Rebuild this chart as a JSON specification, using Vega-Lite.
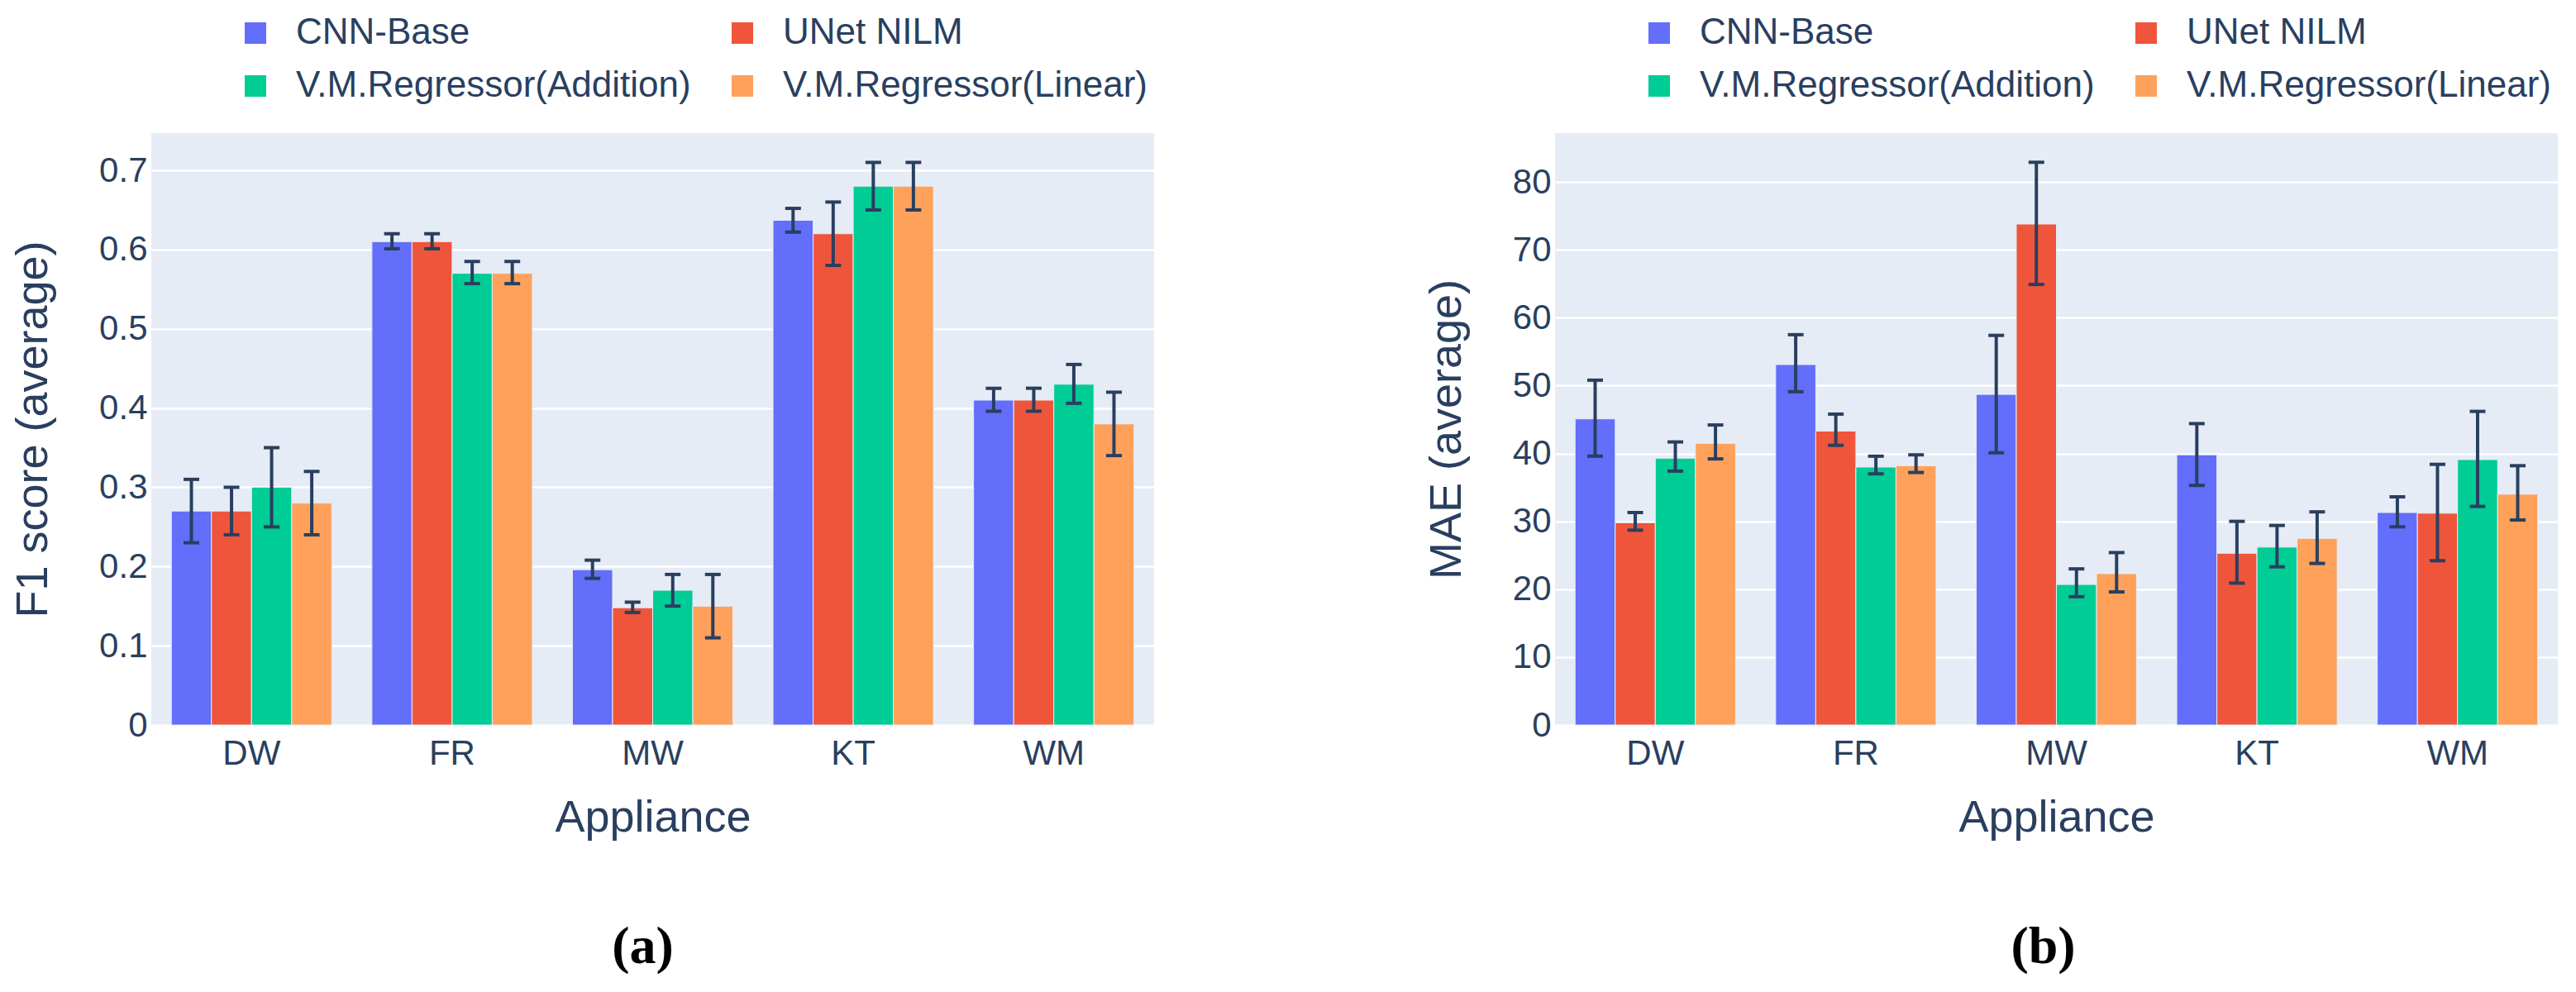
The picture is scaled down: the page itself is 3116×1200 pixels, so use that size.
{
  "$schema": "https://vega.github.io/schema/vega-lite/v6.json",
  "padding": {"left": 13, "top": 18, "right": 0, "bottom": 0},
  "background": "white",
  "datasets": {
    "f1": [
      {"appliance": "DW", "model": "CNN-Base", "value": 0.27, "lo": 0.23, "hi": 0.31},
      {"appliance": "DW", "model": "UNet NILM", "value": 0.27, "lo": 0.24, "hi": 0.30},
      {"appliance": "DW", "model": "V.M.Regressor(Addition)", "value": 0.30, "lo": 0.25, "hi": 0.35},
      {"appliance": "DW", "model": "V.M.Regressor(Linear)", "value": 0.28, "lo": 0.24, "hi": 0.32},
      {"appliance": "FR", "model": "CNN-Base", "value": 0.61, "lo": 0.601, "hi": 0.62},
      {"appliance": "FR", "model": "UNet NILM", "value": 0.61, "lo": 0.601, "hi": 0.62},
      {"appliance": "FR", "model": "V.M.Regressor(Addition)", "value": 0.57, "lo": 0.557, "hi": 0.585},
      {"appliance": "FR", "model": "V.M.Regressor(Linear)", "value": 0.57, "lo": 0.557, "hi": 0.585},
      {"appliance": "MW", "model": "CNN-Base", "value": 0.196, "lo": 0.185, "hi": 0.208},
      {"appliance": "MW", "model": "UNet NILM", "value": 0.148, "lo": 0.142, "hi": 0.155},
      {"appliance": "MW", "model": "V.M.Regressor(Addition)", "value": 0.17, "lo": 0.15, "hi": 0.19},
      {"appliance": "MW", "model": "V.M.Regressor(Linear)", "value": 0.15, "lo": 0.11, "hi": 0.19},
      {"appliance": "KT", "model": "CNN-Base", "value": 0.637, "lo": 0.622, "hi": 0.652},
      {"appliance": "KT", "model": "UNet NILM", "value": 0.62, "lo": 0.58, "hi": 0.66},
      {"appliance": "KT", "model": "V.M.Regressor(Addition)", "value": 0.68, "lo": 0.65, "hi": 0.71},
      {"appliance": "KT", "model": "V.M.Regressor(Linear)", "value": 0.68, "lo": 0.65, "hi": 0.71},
      {"appliance": "WM", "model": "CNN-Base", "value": 0.41, "lo": 0.396, "hi": 0.425},
      {"appliance": "WM", "model": "UNet NILM", "value": 0.41, "lo": 0.396, "hi": 0.425},
      {"appliance": "WM", "model": "V.M.Regressor(Addition)", "value": 0.43, "lo": 0.406, "hi": 0.455},
      {"appliance": "WM", "model": "V.M.Regressor(Linear)", "value": 0.38, "lo": 0.34, "hi": 0.42}
    ],
    "mae": [
      {"appliance": "DW", "model": "CNN-Base", "value": 45.1, "lo": 39.6, "hi": 50.8},
      {"appliance": "DW", "model": "UNet NILM", "value": 29.8, "lo": 28.7, "hi": 31.3},
      {"appliance": "DW", "model": "V.M.Regressor(Addition)", "value": 39.3, "lo": 37.4, "hi": 41.7},
      {"appliance": "DW", "model": "V.M.Regressor(Linear)", "value": 41.5, "lo": 39.2, "hi": 44.2},
      {"appliance": "FR", "model": "CNN-Base", "value": 53.1, "lo": 49.1, "hi": 57.5},
      {"appliance": "FR", "model": "UNet NILM", "value": 43.3, "lo": 41.2, "hi": 45.8},
      {"appliance": "FR", "model": "V.M.Regressor(Addition)", "value": 38.0, "lo": 37.0, "hi": 39.6},
      {"appliance": "FR", "model": "V.M.Regressor(Linear)", "value": 38.2, "lo": 37.2, "hi": 39.8},
      {"appliance": "MW", "model": "CNN-Base", "value": 48.7, "lo": 40.1, "hi": 57.4},
      {"appliance": "MW", "model": "UNet NILM", "value": 73.8, "lo": 64.9, "hi": 82.9},
      {"appliance": "MW", "model": "V.M.Regressor(Addition)", "value": 20.7, "lo": 18.9, "hi": 23.0},
      {"appliance": "MW", "model": "V.M.Regressor(Linear)", "value": 22.3, "lo": 19.6, "hi": 25.4},
      {"appliance": "KT", "model": "CNN-Base", "value": 39.8, "lo": 35.3, "hi": 44.4},
      {"appliance": "KT", "model": "UNet NILM", "value": 25.3, "lo": 20.9, "hi": 30.0},
      {"appliance": "KT", "model": "V.M.Regressor(Addition)", "value": 26.2, "lo": 23.3, "hi": 29.4},
      {"appliance": "KT", "model": "V.M.Regressor(Linear)", "value": 27.5, "lo": 23.8, "hi": 31.4},
      {"appliance": "WM", "model": "CNN-Base", "value": 31.3, "lo": 29.2, "hi": 33.6},
      {"appliance": "WM", "model": "UNet NILM", "value": 31.2, "lo": 24.2, "hi": 38.4},
      {"appliance": "WM", "model": "V.M.Regressor(Addition)", "value": 39.1, "lo": 32.2, "hi": 46.2},
      {"appliance": "WM", "model": "V.M.Regressor(Linear)", "value": 34.0, "lo": 30.2, "hi": 38.2}
    ]
  },
  "hconcat": [
    {
      "width": 1213,
      "height": 716,
      "data": {"name": "f1"},
      "title": {"text": "(a)", "orient": "bottom", "offset": 98, "dx": -12},
      "encoding": {
        "x": {"field": "appliance", "type": "nominal", "sort": ["DW", "FR", "MW", "KT", "WM"], "title": "Appliance", "scale": {"paddingInner": 0.2, "paddingOuter": 0.1}},
        "xOffset": {"field": "model", "type": "nominal", "sort": ["CNN-Base", "UNet NILM", "V.M.Regressor(Addition)", "V.M.Regressor(Linear)"], "scale": {"paddingInner": 0, "paddingOuter": 0}}
      },
      "layer": [
        {
          "mark": {"type": "bar", "stroke": "#E5ECF6", "strokeWidth": 1},
          "encoding": {
            "y": {"field": "value", "type": "quantitative", "title": "F1 score (average)", "scale": {"domain": [0, 0.747], "nice": false, "zero": true}, "axis": {"values": [0, 0.1, 0.2, 0.3, 0.4, 0.5, 0.6, 0.7], "format": "~g"}},
            "color": {
              "field": "model", "type": "nominal",
              "scale": {"domain": ["CNN-Base", "V.M.Regressor(Addition)", "UNet NILM", "V.M.Regressor(Linear)"], "range": ["#636EFA", "#00CC96", "#EF553B", "#FFA15A"]},
              "legend": {"orient": "none", "legendX": 104, "legendY": -143, "columns": 2, "title": null}
            }
          }
        },
        {
          "mark": {"type": "rule", "color": "#2a3f5f", "strokeWidth": 4},
          "encoding": {"y": {"field": "lo", "type": "quantitative", "title": "F1 score (average)"}, "y2": {"field": "hi"}}
        },
        {
          "mark": {"type": "tick", "color": "#2a3f5f", "size": 19, "thickness": 4, "opacity": 1},
          "encoding": {"y": {"field": "lo", "type": "quantitative", "title": "F1 score (average)"}}
        },
        {
          "mark": {"type": "tick", "color": "#2a3f5f", "size": 19, "thickness": 4, "opacity": 1},
          "encoding": {"y": {"field": "hi", "type": "quantitative", "title": "F1 score (average)"}}
        }
      ]
    },
    {
      "width": 1213,
      "height": 716,
      "data": {"name": "mae"},
      "title": {"text": "(b)", "orient": "bottom", "offset": 98, "dx": -16},
      "encoding": {
        "x": {"field": "appliance", "type": "nominal", "sort": ["DW", "FR", "MW", "KT", "WM"], "title": "Appliance", "scale": {"paddingInner": 0.2, "paddingOuter": 0.1}},
        "xOffset": {"field": "model", "type": "nominal", "sort": ["CNN-Base", "UNet NILM", "V.M.Regressor(Addition)", "V.M.Regressor(Linear)"], "scale": {"paddingInner": 0, "paddingOuter": 0}}
      },
      "layer": [
        {
          "mark": {"type": "bar", "stroke": "#E5ECF6", "strokeWidth": 1},
          "encoding": {
            "y": {"field": "value", "type": "quantitative", "title": "MAE (average)", "scale": {"domain": [0, 87.2], "nice": false, "zero": true}, "axis": {"values": [0, 10, 20, 30, 40, 50, 60, 70, 80], "format": "~g"}},
            "color": {
              "field": "model", "type": "nominal",
              "scale": {"domain": ["CNN-Base", "V.M.Regressor(Addition)", "UNet NILM", "V.M.Regressor(Linear)"], "range": ["#636EFA", "#00CC96", "#EF553B", "#FFA15A"]},
              "legend": {"orient": "none", "legendX": 104, "legendY": -143, "columns": 2, "title": null}
            }
          }
        },
        {
          "mark": {"type": "rule", "color": "#2a3f5f", "strokeWidth": 4},
          "encoding": {"y": {"field": "lo", "type": "quantitative", "title": "MAE (average)"}, "y2": {"field": "hi"}}
        },
        {
          "mark": {"type": "tick", "color": "#2a3f5f", "size": 19, "thickness": 4, "opacity": 1},
          "encoding": {"y": {"field": "lo", "type": "quantitative", "title": "MAE (average)"}}
        },
        {
          "mark": {"type": "tick", "color": "#2a3f5f", "size": 19, "thickness": 4, "opacity": 1},
          "encoding": {"y": {"field": "hi", "type": "quantitative", "title": "MAE (average)"}}
        }
      ]
    }
  ],
  "spacing": 327,
  "resolve": {
    "scale": {"color": "independent", "x": "independent", "y": "independent", "xOffset": "independent"},
    "legend": {"color": "independent"}
  },
  "config": {
    "font": "Liberation Sans",
    "view": {"fill": "#E5ECF6", "stroke": null},
    "axis": {
      "labelFont": "Liberation Sans", "titleFont": "Liberation Sans",
      "labelColor": "#2a3f5f", "titleColor": "#2a3f5f",
      "labelFontSize": 42, "titleFontSize": 54, "titleFontWeight": "normal",
      "ticks": false, "domain": false
    },
    "axisY": {"grid": true, "gridColor": "#ffffff", "gridWidth": 2.5, "labelPadding": 5, "titlePadding": 52},
    "axisX": {"grid": false, "labelAngle": 0, "labelPadding": 14, "titlePadding": 30},
    "legend": {
      "symbolType": "square", "symbolSize": 676, "symbolStrokeWidth": 0, "symbolOpacity": 1,
      "labelFont": "Liberation Sans", "labelFontSize": 44, "labelColor": "#2a3f5f",
      "labelOffset": 27, "columnPadding": 40, "rowPadding": 20, "padding": 0, "labelLimit": 1000
    },
    "title": {"font": "Liberation Serif", "fontSize": 64, "fontWeight": "bold", "color": "#000000", "anchor": "middle"}
  }
}
